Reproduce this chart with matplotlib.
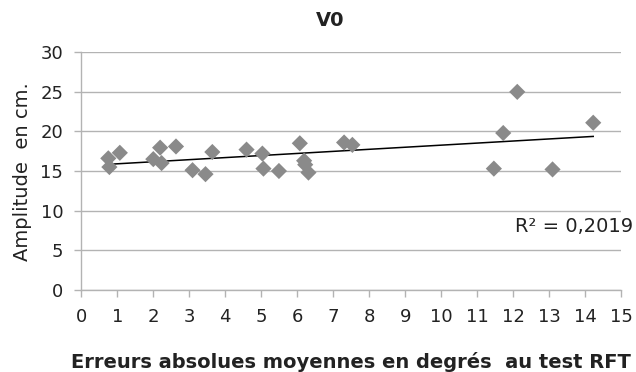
import matplotlib
matplotlib.use("Agg")
import matplotlib.pyplot as plt
import numpy as np

title = "V0"
x_label = "Erreurs absolues moyennes en degrés  au test RFT"
y_label = "Amplitude  en cm."
x_vals = [0.75, 0.78, 1.07, 2.00, 2.19, 2.23, 2.63, 3.09, 3.45, 3.64, 4.59, 5.03, 5.06, 5.49,
          6.07, 6.19, 6.22, 6.31, 7.30, 7.53, 12.11, 14.22, 11.72, 11.46, 13.09]
y_vals = [16.6, 15.5, 17.3, 16.5, 17.95, 16.0, 18.1, 15.1, 14.6, 17.4, 17.7, 17.2, 15.3, 15.0,
          18.5, 16.3, 15.8, 14.8, 18.6, 18.3, 25.0, 21.1, 19.8, 15.3, 15.2]
x_ticks = list(range(0, 16))
y_ticks = [0, 5, 10, 15, 20, 25, 30]
r2_text = "R² = 0,2019"

W, H = 636, 372
fig = plt.figure(figsize=(W / 100, H / 100), dpi=100)
ax = fig.add_axes([81.3 / W, 1 - 289.7 / H, (621.3 - 81.3) / W, (289.7 - 52.3) / H])

x = np.array(x_vals)
y = np.array(y_vals)
slope, intercept = np.polyfit(x, y, 1)
xs = np.array([x.min(), x.max()])
ax.plot(xs, slope * xs + intercept, color="black", lw=1.1, zorder=3)
ax.scatter(x, y, marker="D", s=68, color="#8a8a8a", edgecolors="none", zorder=4)

ax.set_xlim(0, 15)
ax.set_ylim(0, 30)
ax.set_xticks(x_ticks)
ax.set_yticks(y_ticks)
ax.grid(axis="y", color="#b3b3b3", lw=1)
ax.set_axisbelow(True)
for s in ["top", "right"]:
    ax.spines[s].set_visible(False)
for s in ["left", "bottom"]:
    ax.spines[s].set_color("#b3b3b3")
    ax.spines[s].set_linewidth(1)
ax.tick_params(axis="both", colors="#b3b3b3", labelcolor="#222222", labelsize=13, length=5, width=1)
ax.tick_params(axis="y", pad=8)
ax.tick_params(axis="x", pad=8)

fig.text(330 / W, 1 - 20.5 / H, title, fontsize=14, fontweight="bold", ha="center", va="center", color="#222222")
fig.text(350.5 / W, 1 - 361.5 / H, x_label, fontsize=14, fontweight="bold", ha="center", va="center", color="#222222")
fig.text(22.7 / W, 1 - 171.5 / H, y_label, fontsize=14, rotation=90, ha="center", va="center", color="#222222")
fig.text(633 / W, 1 - 226.7 / H, r2_text, fontsize=14, ha="right", va="center", color="#222222")

fig.savefig("out.png", dpi=100)
